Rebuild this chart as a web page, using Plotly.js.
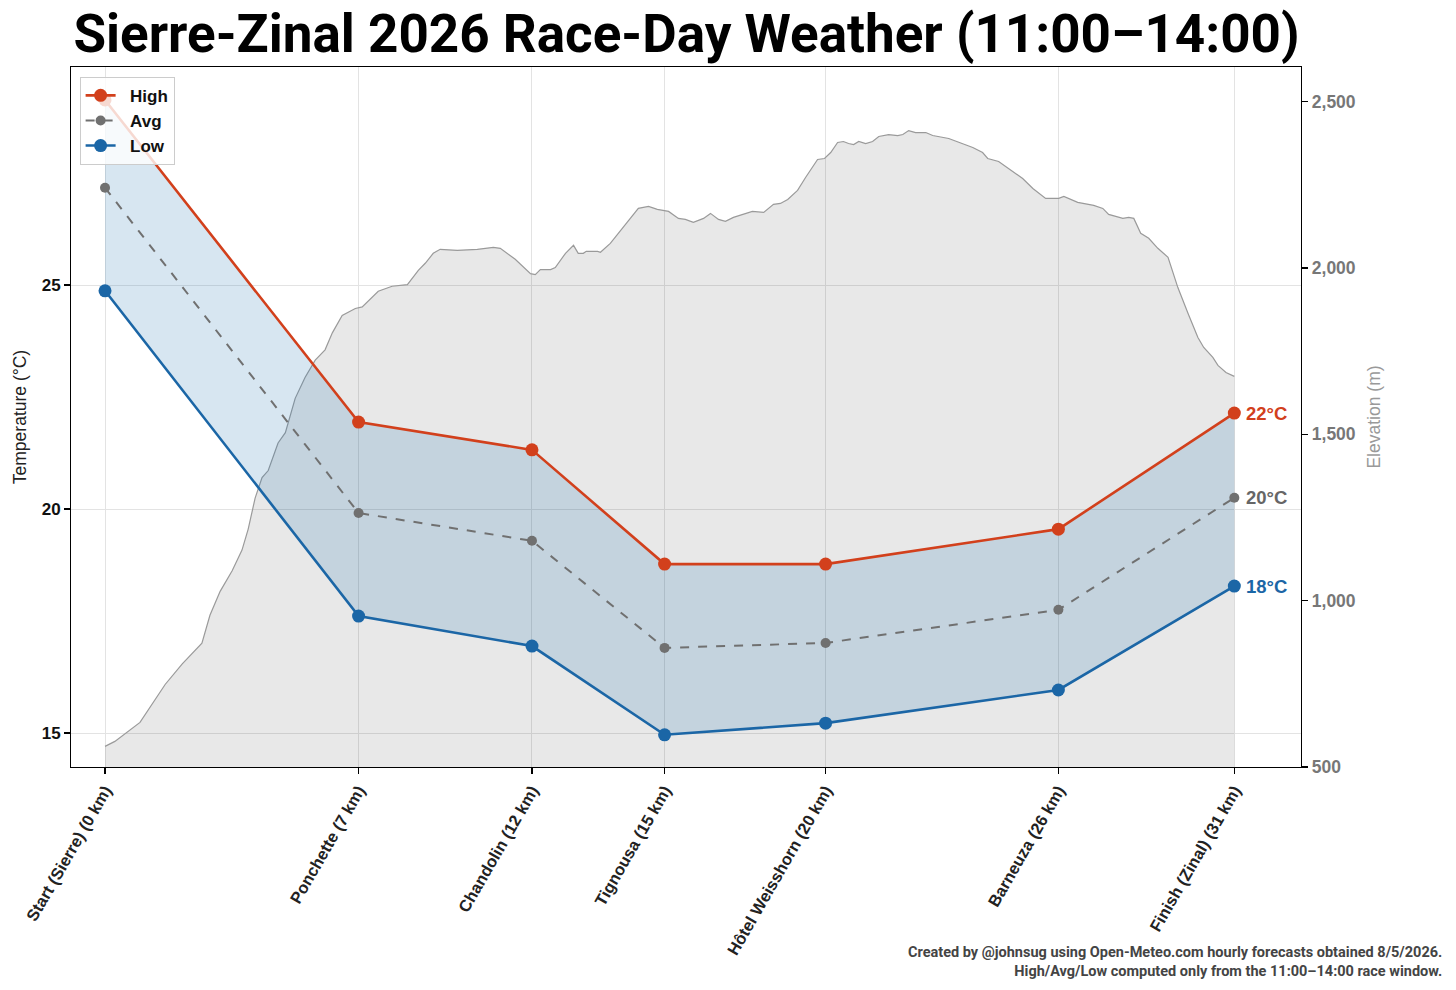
<!DOCTYPE html>
<html>
<head>
<meta charset="utf-8">
<script src="https://cdn.plot.ly/plotly-3.0.1.min.js"></script>
<style>html,body{margin:0;padding:0;background:#fff;}#chart{width:1456px;height:990px;}</style>
</head>
<body>
<div id="chart"></div>
<script>
// Checkpoints (distance in km along course) and tick labels
const checkpointKm = [0, 6.96, 11.72, 15.36, 19.78, 26.17, 31.0];
const checkpointLabels = ["Start (Sierre) (0 km)", "Ponchette (7 km)", "Chandolin (12 km)", "Tignousa (15 km)", "Hôtel Weisshorn (20 km)", "Barneuza (26 km)", "Finish (Zinal) (31 km)"];

// Temperatures (°C), 11:00–14:00 window
const tempHigh = [29.13, 21.94, 21.32, 18.77, 18.77, 19.55, 22.14];
const tempAvg  = [27.17, 19.91, 19.29, 16.90, 17.01, 17.75, 20.25];
const tempLow  = [24.87, 17.61, 16.94, 14.96, 15.22, 15.96, 18.28];
const seriesNames = ['High', 'Avg', 'Low'];

// Elevation profile
const elevKm = [0.00,0.27,0.96,1.24,1.65,2.12,2.66,2.88,3.16,3.49,3.76,3.93,4.12,4.31,4.48,4.75,4.95,5.22,5.49,5.77,6.04,6.24,6.51,6.87,7.06,7.50,7.88,8.30,
  8.60,8.79,9.01,9.20,9.67,10.22,10.66,10.85,11.26,11.68,11.81,11.95,12.23,12.36,12.64,12.86,12.99,13.13,13.21,13.52,13.60,13.87,14.15,14.42,14.64,14.92,15.16,15.47,15.74,15.93,16.15,16.43,16.62,16.84,17.03,17.25,17.77,18.08,18.35,18.54,18.74,19.01,19.23,
  19.56,19.75,19.92,20.11,20.27,20.41,20.55,20.69,20.88,21.07,21.24,21.51,21.76,21.90,22.06,22.25,22.53,22.72,23.16,23.82,24.09,24.23,24.53,24.81,25.19,25.47,25.82,26.18,26.32,26.70,27.14,27.39,27.55,27.94,28.10,28.24,28.43,28.65,28.90,29.18,29.45,29.73,30.00,30.16,30.41,30.55,30.77,31.00];
const elevM = [562,577,634,681,748,810,872,956,1028,1090,1152,1215,1308,1370,1391,1474,1505,1608,1671,1723,1754,1805,1857,1878,1883,1930,1945,1950,
  1993,2014,2044,2056,2053,2056,2062,2059,2026,1983,1980,1995,1995,2001,2044,2068,2044,2044,2050,2050,2047,2074,2113,2152,2179,2185,2176,2170,2149,2146,2137,2149,2164,2146,2140,2152,2170,2167,2191,2194,2206,2233,2272,
  2326,2329,2347,2377,2380,2374,2371,2380,2374,2380,2395,2401,2398,2401,2413,2407,2407,2398,2389,2362,2347,2329,2320,2299,2269,2239,2209,2209,2215,2197,2188,2179,2161,2149,2152,2149,2104,2089,2059,2032,1941,1863,1791,1761,1731,1707,1686,1674];

const elevTicks = [500, 1000, 1500, 2000, 2500];
const tempTicks = [15, 20, 25];

const RED = '#d2401c', GREY = '#707070', BLUE = '#1b66a6';
const lastIdx = checkpointKm.length - 1;
const lastKm = checkpointKm[lastIdx];
const FONT = 'Liberation Sans, Arial, sans-serif';
const pad = s => '\u00a0\u00a0' + s;

const traces = [
  { x: elevKm, y: elevM, xaxis: 'x', yaxis: 'y', type: 'scatter', mode: 'lines',
    line: { color: '#9a9a9a', width: 1.2 }, fill: 'tozeroy', fillcolor: 'rgba(0,0,0,0.09)',
    showlegend: false, hoverinfo: 'skip' },
  { x: checkpointKm, y: tempHigh, xaxis: 'x', yaxis: 'y2', type: 'scatter', mode: 'lines',
    line: { width: 0, color: 'rgba(0,0,0,0)' }, showlegend: false, hoverinfo: 'skip' },
  { x: checkpointKm, y: tempLow, xaxis: 'x', yaxis: 'y2', type: 'scatter', mode: 'lines',
    line: { width: 0, color: 'rgba(0,0,0,0)' }, fill: 'tonexty', fillcolor: 'rgba(31,119,180,0.18)',
    showlegend: false, hoverinfo: 'skip' },
  { x: checkpointKm, y: tempHigh, xaxis: 'x', yaxis: 'y2', type: 'scatter', mode: 'lines+markers', name: pad(seriesNames[0]),
    legendgroup: 'g1', legendrank: 1,
    line: { color: RED, width: 2.6 }, marker: { color: RED, size: 13 } },
  { x: checkpointKm, y: tempAvg, xaxis: 'x', yaxis: 'y2', type: 'scatter', mode: 'lines+markers', name: pad(seriesNames[1]),
    legendgroup: 'g2', legendrank: 2,
    line: { color: GREY, width: 2, dash: 'dash' }, marker: { color: GREY, size: 10 } },
  { x: checkpointKm, y: tempLow, xaxis: 'x', yaxis: 'y2', type: 'scatter', mode: 'lines+markers', name: pad(seriesNames[2]),
    legendgroup: 'g3', legendrank: 3,
    line: { color: BLUE, width: 2.6 }, marker: { color: BLUE, size: 13 } }
];

const endLabels = [
  { v: tempHigh[lastIdx], c: RED },
  { v: tempAvg[lastIdx], c: '#666666' },
  { v: tempLow[lastIdx], c: BLUE }
].map(o => ({
  x: lastKm, y: o.v, xref: 'x', yref: 'y2', text: '<b>' + Math.round(o.v) + '°C</b>',
  showarrow: false, xanchor: 'left', yanchor: 'middle', xshift: 10,
  font: { family: FONT, size: 18.5, color: o.c }
}));

const layout = {
  width: 1456, height: 990,
  paper_bgcolor: '#ffffff', plot_bgcolor: '#ffffff',
  margin: { l: 71, r: 155, t: 67, b: 223 },
  title: { text: '<b>Sierre-Zinal 2026 Race-Day Weather (11:00–14:00)</b>',
    font: { family: 'Roboto, sans-serif', size: 53, color: '#000' },
    x: 0.4715, xanchor: 'center', y: 0.966, yanchor: 'middle', yref: 'container' },
  showlegend: true,
  legend: { x: 0.007, y: 0.986, xanchor: 'left', yanchor: 'top', traceorder: 'normal',
    bgcolor: 'rgba(255,255,255,0.8)', bordercolor: '#cccccc', borderwidth: 1,
    font: { family: FONT, size: 17, color: '#111', weight: 'bold' },
    tracegroupgap: 8 },
  xaxis: {
    range: [-0.934, 32.83], tickmode: 'array', tickvals: checkpointKm, ticktext: checkpointLabels,
    tickangle: -60, ticks: 'outside', ticklen: 6, tickcolor: '#000', tickwidth: 1.2,
    showline: true, linecolor: '#000', linewidth: 1.3, mirror: true,
    showgrid: true, gridcolor: '#e3e3e3', gridwidth: 1, zeroline: false,
    tickfont: { family: FONT, size: 16.5, color: '#222', weight: 'bold' },
    automargin: false
  },
  yaxis: {
    side: 'right', range: [500, 2604], tickmode: 'array', tickvals: elevTicks, tickformat: ',d',
    ticks: 'outside', ticklen: 6, tickcolor: '#000', tickwidth: 1.2,
    showline: true, linecolor: '#000', linewidth: 1.3, mirror: true,
    showgrid: false, zeroline: false,
    tickfont: { family: FONT, size: 17.5, color: '#777', weight: 'bold' },
    title: { text: 'Elevation (m)', font: { family: FONT, size: 17.5, color: '#999' }, standoff: 13 },
    automargin: false
  },
  yaxis2: {
    overlaying: 'y', side: 'left', range: [14.241, 29.866], tickmode: 'array', tickvals: tempTicks,
    ticks: 'outside', ticklen: 6, tickcolor: '#000', tickwidth: 1.2,
    showline: false, showgrid: true, gridcolor: '#e3e3e3', gridwidth: 1, zeroline: false,
    tickfont: { family: FONT, size: 17, color: '#111', weight: 'bold' },
    title: { text: 'Temperature (°C)', font: { family: FONT, size: 17.5, color: '#222' }, standoff: 10 },
    automargin: false
  },
  annotations: endLabels.concat([
    { xref: 'paper', yref: 'paper', x: 1.1159, y: -0.2786, xanchor: 'right', yanchor: 'middle', align: 'right', showarrow: false,
      text: '<b>Created by @johnsug using Open-Meteo.com hourly forecasts obtained 8/5/2026.<br>High/Avg/Low computed only from the 11:00–14:00 race window.</b>',
      font: { family: 'Roboto, sans-serif', size: 14.5, color: '#444' } }
  ])
};

Plotly.newPlot('chart', traces, layout, { displayModeBar: false, staticPlot: true });
</script>
</body>
</html>
